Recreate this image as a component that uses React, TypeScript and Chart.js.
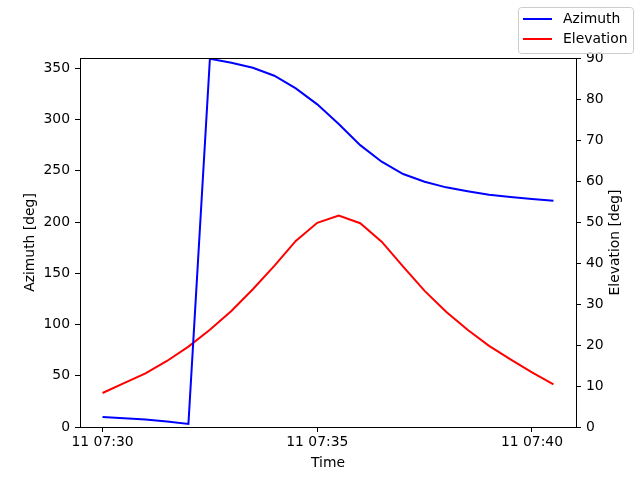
import React, { useEffect, useRef } from "react";
import { Chart, registerables } from "chart.js";

Chart.register(...registerables);

// minutes after 11 07:30
const timeMinutes = [0, 0.5, 1, 1.5, 2, 2.5, 3, 3.5, 4, 4.5, 5, 5.5, 6, 6.5, 7, 7.5, 8, 8.5, 9, 9.5, 10, 10.5];
const azimuth = [9.8, 8.6, 7.2, 5.3, 3.0, 359.3, 355.4, 350.5, 342.7, 330.4, 314.8, 295.6, 275.0, 258.8, 246.8, 239.3, 233.8, 230.0, 226.6, 224.4, 222.4, 220.8];
const elevation = [8.3, 10.7, 13.1, 16.1, 19.6, 23.7, 28.3, 33.6, 39.3, 45.4, 49.8, 51.6, 49.7, 45.2, 39.1, 33.2, 28.1, 23.7, 19.8, 16.5, 13.3, 10.4];
const xTickValues = [0, 5, 10];
const xTickLabels = ["11 07:30", "11 07:35", "11 07:40"];
const azTicks = [0, 50, 100, 150, 200, 250, 300, 350];
const elTicks = [0, 10, 20, 30, 40, 50, 60, 70, 80, 90];
const rightTitle = "Elevation [deg]";

const FONT_FAMILY = "'DejaVu Sans', sans-serif";
const FS = 13.9;

export default function App() {
  const ref = useRef<HTMLCanvasElement>(null);
  useEffect(() => {
    document.body.style.margin = "0";
    const canvas = ref.current!;
    const font = { family: FONT_FAMILY, size: FS };

    const framePlugin = {
      id: "frame",
      afterDraw(chart: any) {
        const { ctx, chartArea: a } = chart;
        ctx.save();
        ctx.strokeStyle = "#000";
        ctx.lineWidth = 1;
        ctx.strokeRect(Math.round(a.left) + 0.5, Math.round(a.top) + 0.5, Math.round(a.right - a.left), Math.round(a.bottom - a.top));
        // right axis title, rotated like matplotlib (reads bottom to top)
        ctx.font = `${FS}px ${FONT_FAMILY}`;
        ctx.fillStyle = "#000";
        ctx.textAlign = "center";
        ctx.textBaseline = "middle";
        ctx.translate(615, (a.top + a.bottom) / 2);
        ctx.rotate(-Math.PI / 2);
        ctx.fillText(rightTitle, 0, 0);
        ctx.restore();
      },
    };

    const legendPlugin = {
      id: "mplLegend",
      afterDraw(chart: any) {
        const { ctx } = chart;
        const x = 518.5, y = 7.5, w = 115, h = 46;
        ctx.save();
        ctx.beginPath();
        (ctx as any).roundRect(x, y, w, h, 3);
        ctx.fillStyle = "rgba(255,255,255,0.8)";
        ctx.fill();
        ctx.strokeStyle = "#cccccc";
        ctx.lineWidth = 1;
        ctx.stroke();
        ctx.font = `${FS}px ${FONT_FAMILY}`;
        ctx.textBaseline = "middle";
        chart.data.datasets.forEach((ds: any, i: number) => {
          const ly = 19 + i * 20;
          ctx.beginPath();
          ctx.strokeStyle = ds.borderColor;
          ctx.lineWidth = 2;
          ctx.moveTo(523, ly);
          ctx.lineTo(552, ly);
          ctx.stroke();
          ctx.fillStyle = "#000";
          ctx.fillText(ds.label, 563, ly);
        });
        ctx.restore();
      },
    };

    const chart = new Chart(canvas, {
      type: "line",
      data: {
        datasets: [
          {
            label: "Azimuth",
            data: timeMinutes.map((t, i) => ({ x: t, y: azimuth[i] })),
            borderColor: "#0000ff",
            backgroundColor: "#0000ff",
            borderWidth: 2,
            pointRadius: 0,
            tension: 0,
            yAxisID: "y",
          },
          {
            label: "Elevation",
            data: timeMinutes.map((t, i) => ({ x: t, y: elevation[i] })),
            borderColor: "#ff0000",
            backgroundColor: "#ff0000",
            borderWidth: 2,
            pointRadius: 0,
            tension: 0,
            yAxisID: "y1",
          },
        ],
      },
      options: {
        responsive: false,
        animation: false,
        devicePixelRatio: 1,
        layout: { padding: { top: 58, left: 0, right: 0, bottom: 0 } },
        plugins: { legend: { display: false }, tooltip: { enabled: false } },
        scales: {
          x: {
            type: "linear",
            min: -0.525,
            max: 11.025,
            afterBuildTicks: (s: any) => {
              s.ticks = xTickValues.map((v) => ({ value: v }));
            },
            afterFit: (s: any) => {
              s.height = 53;
            },
            ticks: {
              callback: (v: any) => xTickLabels[xTickValues.indexOf(Number(v))],
              color: "#000",
              font,
              maxRotation: 0,
              autoSkip: false,
              padding: 2,
            },
            grid: { drawOnChartArea: false, tickLength: 5, tickColor: "#000", color: "#000" },
            border: { display: false },
            title: { display: true, text: "Time", color: "#000", font, padding: { top: 0, bottom: 8 } },
          },
          y: {
            type: "linear",
            position: "left",
            min: 0,
            max: 360,
            afterBuildTicks: (s: any) => {
              s.ticks = azTicks.map((v) => ({ value: v }));
            },
            afterFit: (s: any) => {
              s.width = 80;
            },
            ticks: { color: "#000", font, padding: 5, autoSkip: false },
            grid: { drawOnChartArea: false, tickLength: 5, tickColor: "#000", color: "#000" },
            border: { display: false },
            title: { display: true, text: "Azimuth [deg]", color: "#000", font, padding: { top: 22, bottom: 0 } },
          },
          y1: {
            type: "linear",
            position: "right",
            min: 0,
            max: 90,
            afterBuildTicks: (s: any) => {
              s.ticks = elTicks.map((v) => ({ value: v }));
            },
            afterFit: (s: any) => {
              s.width = 64;
            },
            ticks: { color: "#000", font, padding: 5, autoSkip: false },
            grid: { drawOnChartArea: false, tickLength: 5, tickColor: "#000", color: "#000" },
            border: { display: false },
            title: { display: false },
          },
        },
      },
      plugins: [framePlugin, legendPlugin],
    });
    return () => chart.destroy();
  }, []);
  return (
    <div style={{ width: 640, height: 480 }}>
      <canvas ref={ref} width={640} height={480} style={{ display: "block" }} />
    </div>
  );
}
